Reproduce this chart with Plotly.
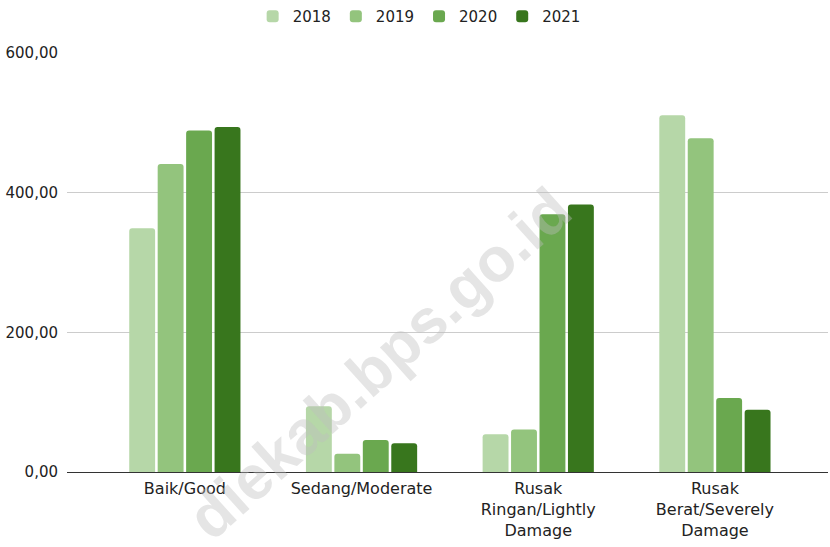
import plotly.graph_objects as go

categories = ["Baik/Good", "Sedang/Moderate", "Rusak<br>Ringan/Lightly<br>Damage", "Rusak<br>Berat/Severely<br>Damage"]
years = ["2018", "2019", "2020", "2021"]
v2018 = [349, 94, 54, 511]
v2019 = [441, 26, 61, 478]
v2020 = [489, 46, 369, 106]
v2021 = [494, 41, 383, 89]
series = [v2018, v2019, v2020, v2021]
colors = ["#b6d7a8", "#93c47d", "#6aa84f", "#38761d"]
y_ticks = [0, 200, 400, 600]

FONT = "DejaVu Sans"

fig = go.Figure()
for name, vals, col in zip(years, series, colors):
    fig.add_trace(go.Bar(x=categories, y=vals, name=name, marker=dict(color=col, line=dict(width=0))))

fig.update_layout(
    width=830, height=547,
    margin=dict(l=67, r=2, t=53, b=75, autoexpand=False),
    plot_bgcolor="white", paper_bgcolor="white",
    barmode="group", bargap=0.356, bargroupgap=0.09,
    barcornerradius=3,
    font=dict(family=FONT, size=15, color="#222222"),
    legend=dict(orientation="h", xref="container", yref="container", x=0.505, xanchor="center",
                y=1.0, yanchor="top", font=dict(size=15, color="#222222"),
                itemwidth=30, traceorder="normal"),
    xaxis=dict(range=[-0.667, 3.64], showgrid=False, showline=False, ticks="", automargin=False,
               tickfont=dict(size=16, color="#222222"), ticklabelstandoff=5),
    yaxis=dict(range=[0, 600], tickvals=y_ticks, tickformat=",.2f", showgrid=True, automargin=False,
               gridcolor="#cccccc", gridwidth=1, zeroline=True, zerolinecolor="#333333",
               zerolinewidth=1, tickfont=dict(size=15, color="#222222"), ticklabelstandoff=8,
               showline=False),
    separators=",.",
)

fig.add_annotation(text="<b>diekab.bps.go.id</b>", xref="paper", yref="paper", x=0.41, y=0.258,
                   xanchor="center", yanchor="middle",
                   showarrow=False, textangle=-42,
                   font=dict(family="Liberation Sans", size=62, color="rgba(190,190,190,0.4)"))

fig.write_html("out.html", config={"displayModeBar": False},
               post_script="document.body.style.margin='0';document.body.style.overflow='hidden';")
